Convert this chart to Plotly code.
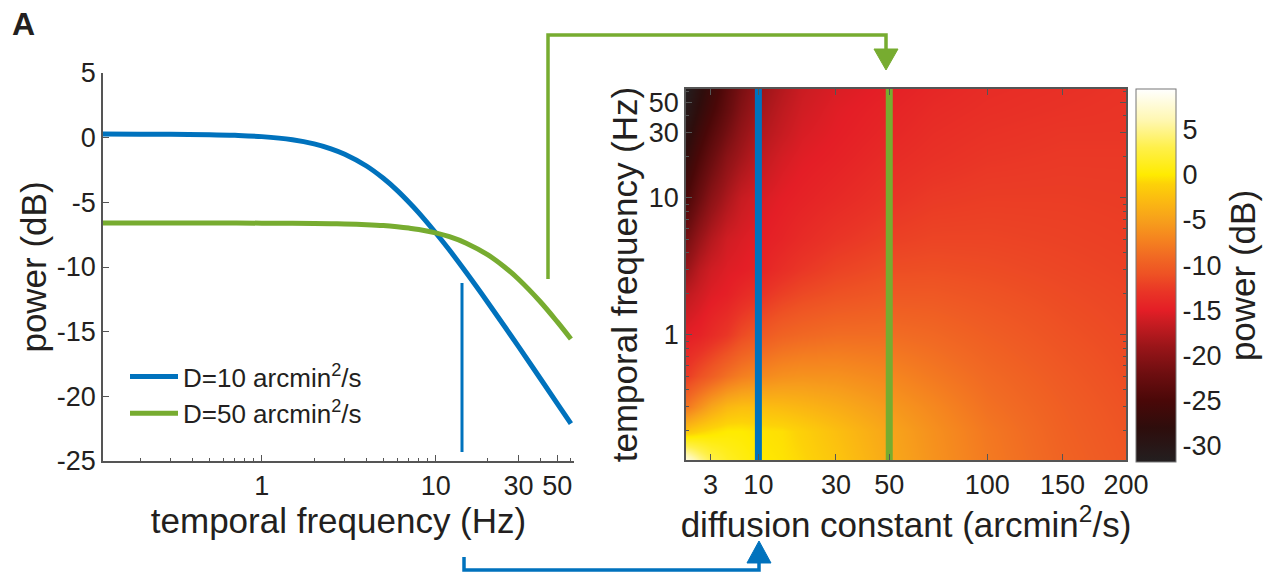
import numpy as np
import plotly.graph_objects as go

W, H = 1276, 575
FONT = "Liberation Sans, Arial, sans-serif"
TXT = "#231F20"
BLUE = "#0072BD"
GREEN = "#77AC30"

# ---------------- data: left panel ----------------
freq_line = [0.122, 0.2, 0.3, 0.5, 0.7, 1, 1.5, 2, 2.5, 3, 4, 5, 6, 7, 8, 10,
             12, 15, 20, 25, 30, 40, 50, 60]
power_d10 = [0.28, 0.27, 0.26, 0.23, 0.18, 0.08, -0.16, -0.48, -0.86, -1.28,
             -2.19, -3.14, -4.07, -4.97, -5.81, -7.35, -8.69, -10.43, -12.76,
             -14.62, -16.16, -18.62, -20.54, -22.11]
power_d50 = [-6.60, -6.60, -6.60, -6.60, -6.60, -6.61, -6.62, -6.63, -6.65,
             -6.67, -6.73, -6.80, -6.89, -6.99, -7.10, -7.36, -7.66, -8.16,
             -9.07, -10.02, -10.95, -12.69, -14.23, -15.57]
line_labels = ["D=10 arcmin<sup>2</sup>/s", "D=50 arcmin<sup>2</sup>/s"]
left_xticks = [1, 10, 30, 50]
left_yticks = [-25, -20, -15, -10, -5, 0, 5]

# ---------------- data: right panel (heatmap) ----------------
diff_const = [1, 2, 3, 5, 7, 10, 15, 20, 30, 50, 70, 100, 150, 200]
freq_map = [0.122, 0.2, 0.3, 0.5, 1, 2, 3, 5, 10, 20, 30, 45, 62.5]
power_map = [
    [8.0, 5.0, 3.0, 1.5, 0.8, 0.0, -0.3, -0.8, -2.0, -4.3, -6.0, -7.8, -9.6, -10.6],
    [-2.0, -1.0, -0.5, 0.0, 0.0, -0.3, -0.5, -1.2, -2.5, -4.6, -6.2, -8.0, -9.8, -10.8],
    [-8.0, -6.0, -4.5, -3.0, -2.5, -2.5, -2.8, -3.2, -4.0, -5.5, -6.8, -8.5, -10.0, -11.0],
    [-12.5, -11.0, -10.0, -8.5, -7.5, -6.8, -6.2, -6.0, -6.1, -6.9, -7.9, -9.1, -10.4, -11.3],
    [-15.0, -14.5, -13.8, -12.8, -11.5, -10.5, -9.6, -9.2, -8.8, -8.8, -9.2, -10.0, -11.0, -11.6],
    [-17.0, -16.0, -15.3, -14.8, -14.0, -13.2, -12.2, -11.6, -11.0, -10.5, -10.5, -10.9, -11.5, -11.9],
    [-19.0, -17.0, -16.0, -15.3, -15.0, -14.5, -13.5, -12.8, -12.0, -11.3, -11.2, -11.4, -11.8, -12.1],
    [-21.5, -19.0, -17.5, -16.0, -15.5, -15.0, -14.4, -13.8, -13.0, -12.2, -11.9, -11.9, -12.1, -12.3],
    [-25.0, -22.0, -20.0, -18.0, -16.5, -15.7, -15.0, -14.6, -14.0, -13.1, -12.6, -12.4, -12.4, -12.5],
    [-27.5, -24.5, -22.5, -20.0, -18.5, -17.0, -15.8, -15.2, -14.7, -13.8, -13.3, -12.9, -12.7, -12.7],
    [-29.0, -26.0, -24.0, -21.5, -19.5, -17.8, -16.5, -15.6, -15.0, -14.2, -13.6, -13.2, -12.9, -12.9],
    [-30.5, -27.5, -25.5, -22.8, -20.5, -18.6, -17.0, -16.0, -15.2, -14.5, -13.9, -13.5, -13.2, -13.0],
    [-31.5, -28.5, -26.5, -23.5, -21.2, -19.2, -17.5, -16.3, -15.5, -14.8, -14.2, -13.7, -13.4, -13.1],
]
marked_D = [10, 50]
map_xticks = [3, 10, 30, 50, 100, 150, 200]
map_yticks = [1, 10, 30, 50]
cbar_ticks = [-30, -25, -20, -15, -10, -5, 0, 5]
cmin, cmax = -31.8, 9.5

colorscale = [
    [0.000, "#231F20"], [0.092, "#2E0D0C"], [0.165, "#4A0808"],
    [0.237, "#6E0E10"], [0.310, "#9A1519"], [0.383, "#D01D23"],
    [0.407, "#E41E26"], [0.455, "#E93426"], [0.504, "#EE5224"],
    [0.552, "#F16A23"], [0.600, "#F5851F"], [0.649, "#F7A01B"],
    [0.697, "#FBB812"], [0.746, "#FDD208"], [0.770, "#FFEB00"],
    [0.843, "#FFF04A"], [0.915, "#FFF7B0"], [1.000, "#FFFFFF"],
]

TICK = 27
TITLE = 35


def px(x):
    return x / W


def py(y):
    return 1 - y / H


fig = go.Figure()

# left panel lines
for vals, col, lab in [(power_d10, BLUE, line_labels[0]), (power_d50, GREEN, line_labels[1])]:
    fig.add_trace(go.Scatter(x=freq_line, y=vals, mode="lines", name=lab,
                             line=dict(color=col, width=5, shape="spline"),
                             xaxis="x", yaxis="y"))

# heatmap
fig.add_trace(go.Heatmap(
    x=np.sqrt(diff_const), y=freq_map, z=power_map, zsmooth="best",
    colorscale=colorscale, zmin=cmin, zmax=cmax, xaxis="x2", yaxis="y2",
    showlegend=False,
    colorbar=dict(
        x=px(1136), xanchor="left", xpad=0, ypad=0,
        y=py(462), yanchor="bottom", len=(462 - 89) / H, lenmode="fraction",
        thickness=40, outlinewidth=1, outlinecolor="#777",
        tickvals=cbar_ticks, ticktext=[str(t) for t in cbar_ticks],
        ticks="", tickfont=dict(size=TICK, family=FONT, color=TXT),
        title=dict(text="power (dB)", side="right",
                   font=dict(size=TITLE, family=FONT, color=TXT)),
    ),
))

# vertical marker lines on heatmap
for dval, col in zip(marked_D, [BLUE, GREEN]):
    fig.add_trace(go.Scatter(x=[np.sqrt(dval)] * 2, y=[freq_map[0], freq_map[-1]],
                             mode="lines", line=dict(color=col, width=7),
                             showlegend=False, xaxis="x2", yaxis="y2"))

axis_common = dict(showgrid=False, zeroline=False, showline=True, automargin=False,
                   linecolor="#555", linewidth=1.5, ticks="inside",
                   tickcolor="#555", ticklen=6, tickwidth=1.2,
                   tickfont=dict(size=TICK, family=FONT, color=TXT))

minor_log = [0.2, 0.3, 0.4, 0.5, 0.6, 0.7, 0.8, 0.9, 2, 3, 4, 5, 6, 7, 8, 9, 20, 40, 60]

fig.update_layout(
    template="none",
    width=W, height=H, margin=dict(l=0, r=0, t=0, b=0, pad=0), autosize=False,
    paper_bgcolor="white", plot_bgcolor="white",
    font=dict(family=FONT, color=TXT),
    xaxis=dict(**axis_common, type="log", domain=[px(103), px(574)], anchor="y",
               range=[np.log10(0.122), np.log10(62.5)],
               tickvals=left_xticks, ticktext=[str(t) for t in left_xticks],
               minor=dict(tickvals=minor_log, ticks="inside", ticklen=3,
                          tickcolor="#555"),
               title=dict(text="temporal frequency (Hz)", standoff=4,
                          font=dict(size=TITLE, family=FONT, color=TXT))),
    yaxis=dict(**axis_common, domain=[py(461), py(73)], anchor="x",
               range=[-25, 5], tickvals=left_yticks,
               ticktext=[str(t) for t in left_yticks],
               title=dict(text="power (dB)", standoff=0,
                          font=dict(size=TITLE, family=FONT, color=TXT))),
    xaxis2=dict(**axis_common, domain=[px(686), px(1126)], anchor="y2",
                range=[1, np.sqrt(200)], mirror="ticks",
                tickvals=np.sqrt(map_xticks).tolist(),
                ticktext=[str(t) for t in map_xticks],
                title=dict(text="diffusion constant (arcmin<sup>2</sup>/s)", standoff=4,
                           font=dict(size=TITLE, family=FONT, color=TXT))),
    yaxis2=dict(**axis_common, type="log", domain=[py(460), py(89)], anchor="x2",
                range=[np.log10(0.122), np.log10(62.5)], mirror="ticks",
                tickvals=map_yticks, ticktext=[str(t) for t in map_yticks],
                minor=dict(tickvals=minor_log, ticks="inside", ticklen=3,
                           tickcolor="#555"),
                title=dict(text="temporal frequency (Hz)", standoff=1,
                           font=dict(size=TITLE, family=FONT, color=TXT))),
    legend=dict(x=px(125), y=py(353), xanchor="left", yanchor="top",
                bgcolor="rgba(0,0,0,0)", itemwidth=48, borderwidth=0,
                font=dict(size=26, family=FONT, color=TXT),
                tracegroupgap=0),
)


def path(points, close=False):
    s = "M " + " L ".join(f"{px(x):.5f},{py(y):.5f}" for x, y in points)
    return s + (" Z" if close else "")


shapes = [
    dict(type="path", path=path([(548, 279), (548, 35), (886, 35), (886, 52)]),
         line=dict(color=GREEN, width=3.5)),
    dict(type="path", path=path([(874, 49), (898, 49), (886, 70)], True),
         line=dict(color=GREEN, width=1), fillcolor=GREEN),
    dict(type="path", path=path([(464, 557), (464, 570), (759, 570), (759, 563)]),
         line=dict(color=BLUE, width=3.5)),
    dict(type="path", path=path([(747, 563), (771, 563), (759, 541)], True),
         line=dict(color=BLUE, width=1), fillcolor=BLUE),
    dict(type="path", path=path([(462, 283), (462, 452)]),
         line=dict(color=BLUE, width=3)),
]
for s in shapes:
    s.update(xref="paper", yref="paper", layer="above")
fig.update_layout(shapes=shapes)

fig.add_annotation(text="<b>A</b>", x=px(10), y=py(24), xref="paper", yref="paper",
                   xanchor="left", yanchor="middle", showarrow=False,
                   font=dict(size=32, family=FONT, color=TXT))

fig.write_html("out.html")
